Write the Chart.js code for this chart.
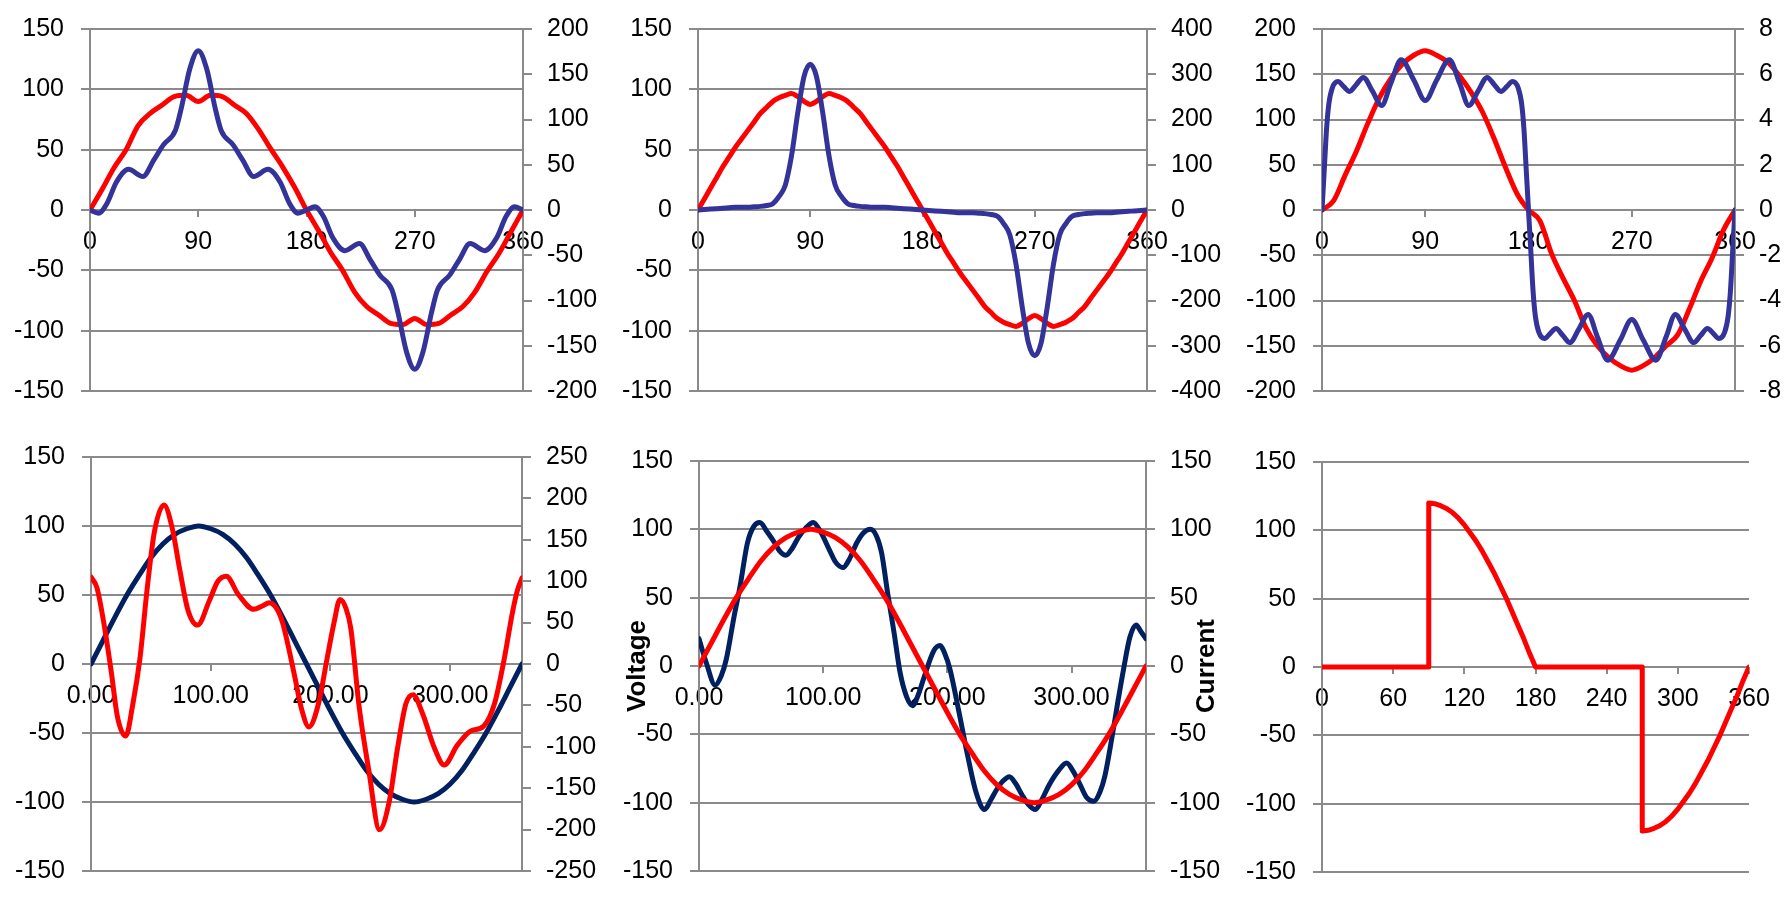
<!DOCTYPE html>
<html>
<head>
<meta charset="utf-8">
<script src="https://cdn.jsdelivr.net/npm/chart.js@4.4.1/dist/chart.umd.min.js"></script>
<style>
  html, body { margin: 0; padding: 0; background: #fff; overflow: hidden; }
  #wrap { position: relative; width: 1786px; height: 897px; }
  #wrap canvas { position: absolute; }
</style>
</head>
<body>
<div id="wrap"></div>
<script>
// tick labels
const ticks90 = [0, 90, 180, 270, 360];
const ticks100 = [0, 100, 200, 300];
const ticks60 = [0, 60, 120, 180, 240, 300, 360];
const left150 = [-150, -100, -50, 0, 50, 100, 150];
const left200 = [-200, -150, -100, -50, 0, 50, 100, 150, 200];
const tlRight = [-200, -150, -100, -50, 0, 50, 100, 150, 200];
const tmRight = [-400, -300, -200, -100, 0, 100, 200, 300, 400];
const trRight = [-8, -6, -4, -2, 0, 2, 4, 6, 8];
const blRight = [-250, -200, -150, -100, -50, 0, 50, 100, 150, 200, 250];
const bmRight = [-150, -100, -50, 0, 50, 100, 150];

// shared angle grids
const deg10 = [0, 10, 20, 30, 40, 50, 60, 70, 80, 90, 100, 110, 120, 130, 140, 150, 160, 170, 180,
  190, 200, 210, 220, 230, 240, 250, 260, 270, 280, 290, 300, 310, 320, 330, 340, 350, 360];
const deg5 = [0, 5, 10, 15, 20, 25, 30, 35, 40, 45, 50, 55, 60, 65, 70, 75, 80, 85, 90, 95, 100, 105,
  110, 115, 120, 125, 130, 135, 140, 145, 150, 155, 160, 165, 170, 175, 180, 185, 190, 195, 200, 205,
  210, 215, 220, 225, 230, 235, 240, 245, 250, 255, 260, 265, 270, 275, 280, 285, 290, 295, 300, 305,
  310, 315, 320, 325, 330, 335, 340, 345, 350, 355, 360];

// top left
const tlRed = [0, 17, 35, 50, 70, 80, 87, 94, 95, 90, 95, 94, 87, 80, 67, 51, 36, 19, 0,
  -17, -35, -50, -68, -80, -87, -94, -95, -90, -95, -94, -87, -80, -68, -51, -36, -18, 0];
const tlBlueDeg = [0, 7, 14, 22, 32, 44, 53, 61, 71, 76, 83, 90, 97, 104, 109, 119, 127, 136, 148, 158, 166, 173, 180,
  187, 194, 202, 212, 224, 233, 241, 251, 256, 263, 270, 277, 284, 289, 299, 307, 316, 328, 338, 346, 353, 360];
const tlBlue = [0, -3.5, 7, 31, 45, 37, 55, 72, 88, 113, 156, 176, 156, 113, 88, 72, 55, 37, 45, 31, 7, -3.5, 0,
  3.5, -7, -31, -45, -37, -55, -72, -88, -113, -156, -176, -156, -113, -88, -72, -55, -37, -45, -31, -7, 3.5, 0];

// top middle
const tmRed = [0, 9, 18, 27, 36, 44, 52, 59, 66, 73, 80, 85, 90, 93, 95, 96.5, 94, 90, 87.5, 90, 94, 96.5,
  95, 93, 90, 85, 80, 73, 66, 59, 52, 44, 36, 27, 18, 9, 0,
  -9, -18, -27, -36, -44, -52, -59, -66, -73, -80, -85, -90, -93, -95, -96.5, -94, -90, -87.5, -90, -94,
  -96.5, -95, -93, -90, -85, -80, -73, -66, -59, -52, -44, -36, -27, -18, -9, 0];
const tmBlue = [0, 1, 2, 3, 4, 5, 6, 6, 6, 7, 8, 10, 14, 30, 55, 120, 215, 295, 322, 295, 215, 120, 55,
  30, 14, 10, 8, 7, 6, 6, 6, 5, 4, 3, 2, 1, 0,
  -1, -2, -3, -4, -5, -6, -6, -6, -7, -8, -10, -14, -30, -55, -120, -215, -295, -322, -295, -215, -120,
  -55, -30, -14, -10, -8, -7, -6, -6, -6, -5, -4, -3, -2, -1, 0];

// top right
const trRed = [0, 10, 38, 65, 96, 124, 145, 161, 171, 176, 171, 163, 148, 130, 108, 79, 47, 18, 0,
  -12, -48, -75, -100, -130, -150, -163, -172, -177, -172, -163, -150, -138, -110, -79, -53, -22, 0];
const trBlueDeg = [0, 2, 4, 6, 9, 14, 19, 24, 30, 36, 44, 52, 60, 69, 80, 90, 100, 111, 120, 128, 136, 144,
  150, 156, 161, 166, 171, 174, 176, 178, 180,
  182, 184, 186, 189, 194, 199, 204, 210, 216, 224, 232, 240, 249, 260, 270, 280, 291, 300, 308, 316,
  324, 330, 336, 341, 346, 351, 354, 356, 358, 360];
const trBlue = [0, 1.8, 3.6, 4.7, 5.4, 5.68, 5.45, 5.24, 5.55, 5.86, 5.25, 4.62, 5.6, 6.64, 5.75, 4.84,
  5.75, 6.64, 5.6, 4.62, 5.25, 5.86, 5.55, 5.24, 5.45, 5.68, 5.4, 4.7, 3.6, 1.8, 0,
  -1.8, -3.6, -4.7, -5.4, -5.68, -5.45, -5.24, -5.55, -5.86, -5.25, -4.62, -5.6, -6.64, -5.75, -4.84,
  -5.75, -6.64, -5.6, -4.62, -5.25, -5.86, -5.55, -5.24, -5.45, -5.68, -5.4, -4.7, -3.6, -1.8, 0];

// bottom left
const blNavy = [0, 17, 34, 50, 64, 77, 87, 94, 98, 100, 98, 94, 87, 77, 64, 50, 34, 17, 0,
  -17, -34, -50, -64, -77, -87, -94, -98, -100, -98, -94, -87, -77, -64, -50, -34, -17, 0];
const blRedDeg = [0, 5, 11, 17, 22, 29, 35, 41, 47, 53, 61, 68, 74, 81, 89, 99, 106, 113, 123, 136,
  143, 149, 155, 160, 165, 170, 176, 182, 190, 197, 203, 208, 213, 217, 224, 232, 241, 249, 256, 263,
  269, 277, 287, 295, 306, 317, 328, 337, 345, 352, 356, 360];
const blRed = [105, 92, 47, -10, -63, -87, -48, 8, 92, 160, 192, 163, 115, 65, 47, 77, 100, 106, 84, 66,
  70, 74, 67, 50, 20, -14, -55, -76, -48, 5, 50, 78, 67, 43, -52, -128, -200, -167, -102, -48,
  -37, -60, -102, -122, -98, -81, -75, -48, 5, 62, 88, 104];

// bottom middle
const bmRed = [0, 17, 34, 50, 64, 77, 87, 94, 98, 100, 98, 94, 87, 77, 64, 50, 34, 17, 0,
  -17, -34, -50, -64, -77, -87, -94, -98, -100, -98, -94, -87, -77, -64, -50, -34, -17, 0];
const bmNavyDeg = [0, 6, 13, 18, 22, 28, 33, 39, 44, 49, 55, 61, 65, 70, 75, 80, 86, 92, 98, 105,
  110, 116, 121, 127, 132, 138, 143, 147, 152, 157, 162, 167, 172, 177, 181, 189, 194, 198, 202, 209,
  216, 223, 230, 235, 240, 245, 250, 255, 260, 265, 271, 276, 282, 290, 296, 302, 307, 312, 318, 323,
  327, 333, 337, 342, 347, 352, 356, 360];
const bmNavy = [20, 2, -14, -7, 5, 35, 58, 90, 102, 105, 98, 90, 84, 81, 86, 94, 101, 105, 98, 85,
  76, 72, 78, 90, 97, 100, 95, 83, 53, 25, -5, -22, -29, -20, -9, 11, 15, 9, -2, -32,
  -64, -92, -105, -98, -90, -84, -81, -86, -94, -101, -105, -98, -87, -76, -71, -78, -87, -96, -99, -92,
  -80, -50, -28, -2, 21, 30, 25, 20];

// bottom right
const brDeg = [0, 90, 90, 95, 100, 105, 110, 115, 120, 125, 130, 135, 140, 145, 150, 155, 160, 165, 170, 175, 180,
  270, 270, 275, 280, 285, 290, 295, 300, 305, 310, 315, 320, 325, 330, 335, 340, 345, 350, 355, 360];
const brRed = [0, 0, 120, 119.5, 118, 116, 113, 109, 104, 98, 92, 85, 77, 69, 60, 51, 41, 31, 21, 10, 0,
  0, -120, -119.5, -118, -116, -113, -109, -104, -98, -92, -85, -77, -69, -60, -51, -41, -31, -21, -10, 0];

const RED = '#ff0000';
const BLUE = '#333399';
const NAVY = '#002060';
const GRID = '#8a8a8a';
const AXIS_W = 90;

Chart.defaults.font.family = "'Liberation Sans', Arial, sans-serif";
Chart.defaults.font.size = 25;
Chart.defaults.color = '#000';

function series(xs, ys, color, axis, smooth) {
  return {
    data: xs.map((x, i) => ({ x: x, y: ys[i] })),
    borderColor: color,
    borderWidth: 5,
    pointRadius: 0,
    fill: false,
    yAxisID: axis,
    cubicInterpolationMode: smooth ? 'monotone' : 'default',
    tension: 0,
    borderJoinStyle: 'round',
    borderCapStyle: 'round'
  };
}

function fixedTicks(values) {
  return (scale) => { scale.ticks = values.map(v => ({ value: v })); };
}

function yScale(side, values, title) {
  const s = {
    type: 'linear',
    position: side,
    min: values[0],
    max: values[values.length - 1],
    afterBuildTicks: fixedTicks(values),
    afterFit: (scale) => { scale.width = AXIS_W; },
    ticks: { padding: side === 'left' ? 17 : 15, autoSkip: false, callback: v => String(v) },
    grid: { color: GRID, lineWidth: 2, tickLength: 9, drawTicks: true, drawOnChartArea: side === 'left' },
    border: { display: true, color: GRID, width: 2 }
  };
  if (title) {
    s.title = { display: true, text: title, font: { size: 26, weight: 'bold' }, padding: { top: 13, bottom: 0 } };
  }
  return s;
}

function xScale(values, fmt) {
  return {
    type: 'linear',
    min: 0,
    max: 360,
    position: { y: 0 },
    z: 1,
    afterBuildTicks: fixedTicks(values),
    ticks: { padding: 10, maxRotation: 0, autoSkip: false, callback: fmt },
    grid: { color: GRID, lineWidth: 2, tickLength: 7, drawTicks: true, drawOnChartArea: false },
    border: { display: false }
  };
}

// "Current" reads bottom-to-top like the left title
const currentTitle = {
  id: 'currentTitle',
  afterDraw(chart) {
    const { ctx, chartArea } = chart;
    ctx.save();
    ctx.translate(chartArea.right + 61, (chartArea.top + chartArea.bottom) / 2);
    ctx.rotate(-Math.PI / 2);
    ctx.font = "bold 26px 'Liberation Sans', Arial, sans-serif";
    ctx.fillStyle = '#000';
    ctx.textAlign = 'center';
    ctx.textBaseline = 'middle';
    ctx.fillText('Current', 0, 0);
    ctx.restore();
  }
};

const wrap = document.getElementById('wrap');

function addChart(box, rightW, datasets, scales, plugins) {
  const canvas = document.createElement('canvas');
  const w = box.w + AXIS_W + rightW;
  const h = box.h + 40;
  canvas.width = w;
  canvas.height = h;
  canvas.style.left = (box.l - AXIS_W) + 'px';
  canvas.style.top = (box.t - 20) + 'px';
  canvas.style.width = w + 'px';
  canvas.style.height = h + 'px';
  wrap.appendChild(canvas);
  new Chart(canvas, {
    type: 'line',
    data: { datasets: datasets },
    options: {
      responsive: false,
      animation: false,
      layout: { padding: { top: 20, bottom: 20, left: 0, right: scales.y1 ? 0 : rightW } },
      plugins: { legend: { display: false }, tooltip: { enabled: false } },
      scales: scales
    },
    plugins: plugins || []
  });
}

const plain = v => String(v);
const twoDp = v => v.toFixed(2);

addChart({ l: 90, t: 17, w: 433, h: 386 }, AXIS_W, [
  series(tlBlueDeg, tlBlue, BLUE, 'y1', true),
  series(deg10, tlRed, RED, 'y', true)
], { x: xScale(ticks90, plain), y: yScale('left', left150), y1: yScale('right', tlRight) });

addChart({ l: 698, t: 17, w: 449, h: 386 }, AXIS_W, [
  series(deg5, tmBlue, BLUE, 'y1', true),
  series(deg5, tmRed, RED, 'y', true)
], { x: xScale(ticks90, plain), y: yScale('left', left150), y1: yScale('right', tmRight) });

addChart({ l: 1322, t: 17, w: 413, h: 386 }, AXIS_W, [
  series(trBlueDeg, trBlue, BLUE, 'y1', true),
  series(deg10, trRed, RED, 'y', true)
], { x: xScale(ticks90, plain), y: yScale('left', left200), y1: yScale('right', trRight) });

addChart({ l: 91, t: 445, w: 431, h: 438 }, AXIS_W, [
  series(blRedDeg, blRed, RED, 'y1', true),
  series(deg10, blNavy, NAVY, 'y', true)
], { x: xScale(ticks100, twoDp), y: yScale('left', left150), y1: yScale('right', blRight) });

addChart({ l: 699, t: 449, w: 447, h: 434 }, AXIS_W, [
  series(deg10, bmRed, RED, 'y1', true),
  series(bmNavyDeg, bmNavy, NAVY, 'y', true)
], { x: xScale(ticks100, twoDp), y: yScale('left', left150, 'Voltage'), y1: yScale('right', bmRight) }, [currentTitle]);

addChart({ l: 1322, t: 450, w: 427, h: 434 }, 40, [
  series(brDeg, brRed, RED, 'y', false)
], { x: xScale(ticks60, plain), y: yScale('left', left150) });
</script>
</body>
</html>
